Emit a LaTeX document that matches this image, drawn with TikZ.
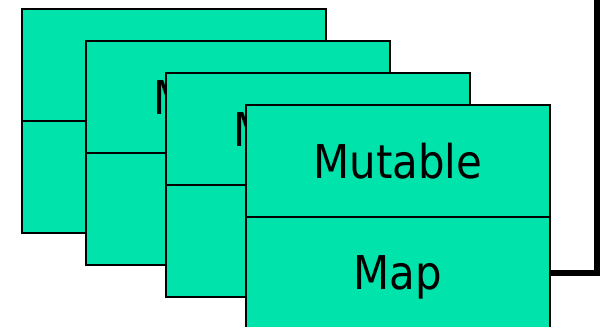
\documentclass[tikz,border=0pt]{standalone}
\usepackage{fontspec}
\usepackage{xcolor}
\usepackage{tikz}
\usetikzlibrary{positioning}
\newfontfamily\cardfont{DejaVu Sans Condensed}
\definecolor{cardgreen}{HTML}{00E3AA}

\begin{document}
\begin{tikzpicture}[x=0.02cm, y=-0.02cm,
    half_box/.style={draw=black, fill=cardgreen, line width=1.1pt, outer sep=0pt, minimum width=6.08cm, minimum height=2.24cm, inner sep=0pt, text depth=0pt, anchor=north west, font=\cardfont\fontsize{26.5}{30}\selectfont},
    loop_line/.style={draw=black, line width=3.9pt}
]
    \useasboundingbox (0,0) rectangle (600,327);

    % Cards, back to front (text only where it is not covered)
    \foreach \i/\x/\y/\toptext/\bottext in {0/22/9//, 1/86/41/Mutable/, 2/166/73/Mutable/, 3/246/105/Mutable/Map} {
        \node[half_box] (top\i) at (\x,\y) {\toptext};
        \node[half_box, below=0pt of top\i] (bot\i) {\bottext};
    }

    % Line coming back into the last card
    \coordinate (loop_top) at (597,-5);
    \draw[loop_line] (loop_top) |- (bot3.east);
\end{tikzpicture}
\end{document}
